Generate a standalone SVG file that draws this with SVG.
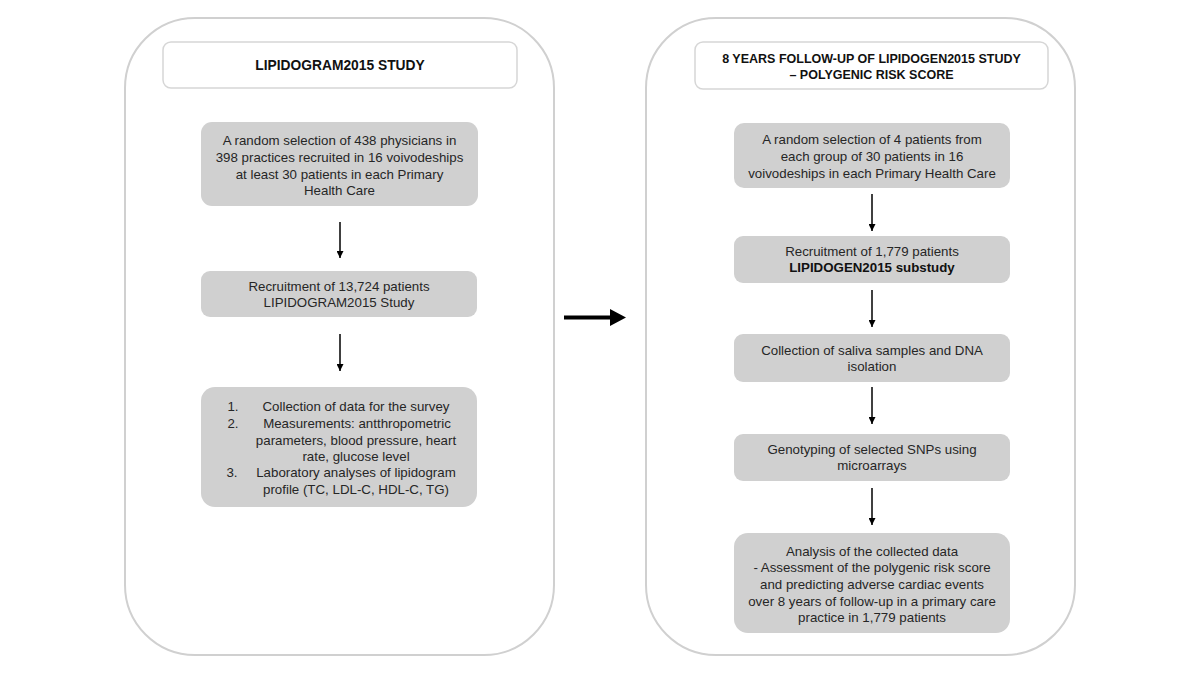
<svg xmlns="http://www.w3.org/2000/svg" width="1200" height="674" viewBox="0 0 1200 674">
<defs>
<marker id="ah" viewBox="0 0 10 10" refX="10" refY="5" markerWidth="7" markerHeight="7" markerUnits="userSpaceOnUse" orient="auto">
<path d="M0,0 L10,5 L0,10 z" fill="#000"/>
</marker>
<style>
.panel{fill:#fff;stroke:#d0d0d0;stroke-width:2}
.title{fill:#fff;stroke:#d6d6d6;stroke-width:1.5}
.box{fill:#d0d0d0;stroke:none}
.t{font-family:"Liberation Sans",Arial,sans-serif;font-size:13.3px;fill:#262626;text-anchor:middle}
.tb{font-family:"Liberation Sans",Arial,sans-serif;font-size:12.5px;font-weight:bold;fill:#111;text-anchor:middle}
.b{font-weight:bold;fill:#111}
.c{stroke:#000;stroke-width:1.5;fill:none}
</style>
</defs>
<rect width="1200" height="674" fill="#fff"/>
<g id="panel-left">
<rect class="panel" x="125" y="18" width="429" height="637" rx="70"/>
</g>
<g id="panel-right">
<rect class="panel" x="646" y="18" width="429" height="637" rx="70"/>
</g>
<g id="title-left">
<rect class="title" x="163" y="42" width="354" height="46" rx="8"/>
<text class="tb" x="340" y="70" style="font-size:13.8px">LIPIDOGRAM2015 STUDY</text>
</g>
<g id="left-1">
<rect class="box" x="201" y="122" width="277" height="84" rx="11"/>
<text class="t" x="339.5"><tspan x="339.5" y="144.5">A random selection of 438 physicians in</tspan><tspan x="339.5" y="161.5">398 practices recruited in 16 voivodeships</tspan><tspan x="339.5" y="178.5">at least 30 patients in each Primary</tspan><tspan x="339.5" y="195">Health Care</tspan></text>
</g>
<g id="left-2">
<rect class="box" x="201" y="271" width="276" height="46" rx="9"/>
<text class="t"><tspan x="339" y="290.5">Recruitment of 13,724 patients</tspan><tspan x="339" y="306.5">LIPIDOGRAM2015 Study</tspan></text>
</g>
<g id="left-3">
<rect class="box" x="201" y="387" width="276" height="120" rx="14"/>
<text class="t"><tspan x="233" y="411">1.</tspan><tspan x="356" y="411">Collection of data for the survey</tspan><tspan x="233" y="427.5">2.</tspan><tspan x="357" y="427.5">Measurements: antthropometric</tspan><tspan x="356" y="444.5">parameters, blood pressure, heart</tspan><tspan x="356" y="461">rate, glucose level</tspan><tspan x="232" y="476.5">3.</tspan><tspan x="356" y="476.5">Laboratory analyses of lipidogram</tspan><tspan x="356" y="493.5">profile (TC, LDL-C, HDL-C, TG)</tspan></text>
</g>
<g id="title-right">
<rect class="title" x="695" y="42" width="353" height="47" rx="8"/>
<text class="tb"><tspan x="871.5" y="62.5">8 YEARS FOLLOW-UP OF LIPIDOGEN2015 STUDY</tspan><tspan x="871.5" y="78.5">– POLYGENIC RISK SCORE</tspan></text>
</g>
<g id="right-1">
<rect class="box" x="734" y="123" width="276" height="65" rx="10"/>
<text class="t"><tspan x="872" y="143.5">A random selection of 4 patients from</tspan><tspan x="872" y="161">each group of 30 patients in 16</tspan><tspan x="872" y="177.5">voivodeships in each Primary Health Care</tspan></text>
</g>
<g id="right-2">
<rect class="box" x="734" y="236" width="276" height="47" rx="9"/>
<text class="t"><tspan x="872" y="255.5">Recruitment of 1,779 patients</tspan><tspan class="b" x="872" y="271.5">LIPIDOGEN2015 substudy</tspan></text>
</g>
<g id="right-3">
<rect class="box" x="734" y="334" width="276" height="48" rx="9"/>
<text class="t"><tspan x="872" y="355">Collection of saliva samples and DNA</tspan><tspan x="872" y="371">isolation</tspan></text>
</g>
<g id="right-4">
<rect class="box" x="734" y="434" width="276" height="47" rx="9"/>
<text class="t"><tspan x="872" y="453.5">Genotyping of selected SNPs using</tspan><tspan x="872" y="470">microarrays</tspan></text>
</g>
<g id="right-5">
<rect class="box" x="734" y="533" width="276" height="100" rx="14"/>
<text class="t"><tspan x="872" y="555.5">Analysis of the collected data</tspan><tspan x="872" y="572">- Assessment of the polygenic risk score</tspan><tspan x="872" y="589">and predicting adverse cardiac events</tspan><tspan x="872" y="606">over 8 years of follow-up in a primary care</tspan><tspan x="872" y="621.5">practice in 1,779 patients</tspan></text>
</g>
<g id="connectors">
<line class="c" x1="340" y1="222" x2="340" y2="258" marker-end="url(#ah)"/>
<line class="c" x1="340" y1="334" x2="340" y2="371" marker-end="url(#ah)"/>
<line class="c" x1="872" y1="194" x2="872" y2="231" marker-end="url(#ah)"/>
<line class="c" x1="872" y1="290" x2="872" y2="327" marker-end="url(#ah)"/>
<line class="c" x1="872" y1="387" x2="872" y2="424" marker-end="url(#ah)"/>
<line class="c" x1="872" y1="488" x2="872" y2="525" marker-end="url(#ah)"/>
<path d="M564,315.5 H610 V309 L626,317.5 L610,326 V319.5 H564 Z" fill="#000"/>
</g>
</svg>
